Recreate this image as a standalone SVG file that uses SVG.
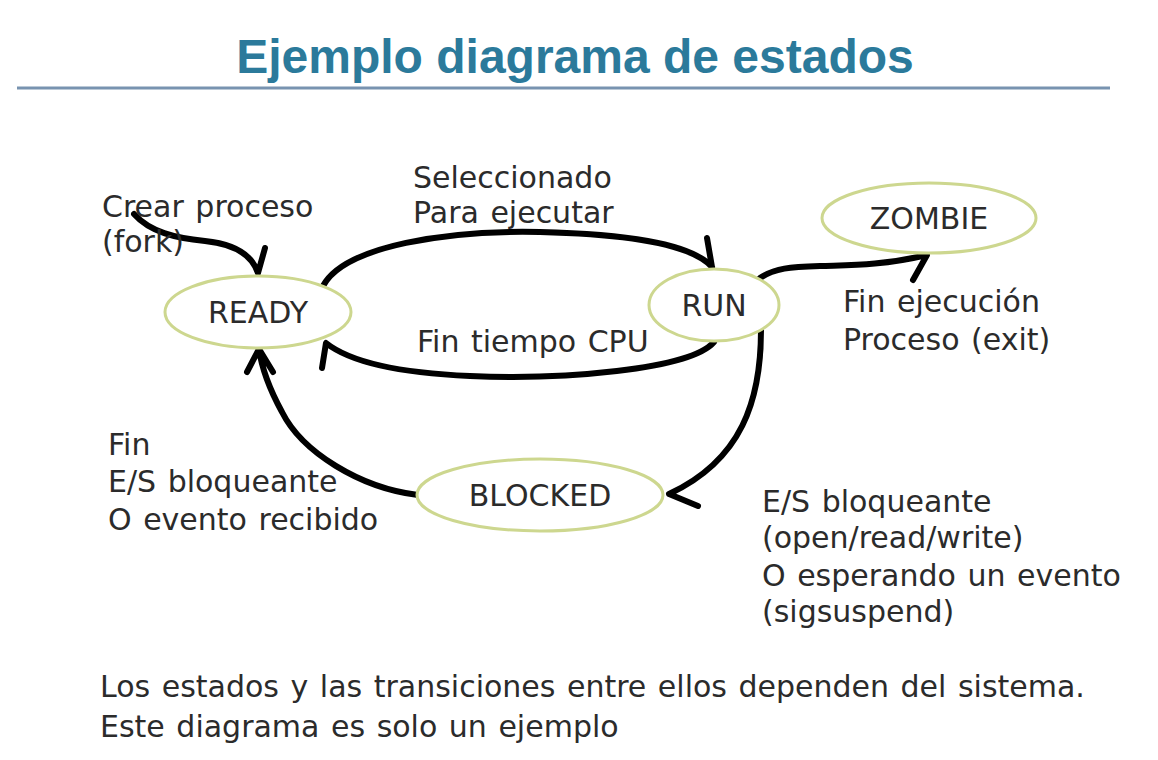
<svg xmlns="http://www.w3.org/2000/svg" width="1158" height="760" viewBox="0 0 1158 760">
<style>
.t{font-family:"DejaVu Sans",Verdana,sans-serif;font-size:30px;word-spacing:2px;fill:#2b2b2b}
.n{fill:#fff;stroke:#cdd78f;stroke-width:3}
.c{fill:none;stroke:#000;stroke-width:6;stroke-linecap:round;stroke-linejoin:round}
</style>
<rect width="1158" height="760" fill="#fff"/>
<text x="575" y="73" text-anchor="middle" font-family="'Liberation Sans',Arial,sans-serif" font-weight="bold" font-size="48" fill="#2b7a9b">Ejemplo diagrama de estados</text>
<line x1="17" y1="88" x2="1110" y2="88" stroke="#7893b0" stroke-width="3"/>
<g id="connectors">
<path class="c" d="M134,214 C150,232 175,238 205,241 C235,244 252,255 258,273 M265,248 L258,273"/>
<path class="c" d="M323,286 C345,245 450,230 540,232 C620,234 690,242 712,267 M707,238 L712,267"/>
<path class="c" d="M714,342 C690,370 560,380 470,376 C400,373 350,362 326,343 L322,368"/>
<path class="c" d="M761,330 C761,400 742,460 669,494 L698,506"/>
<path class="c" d="M418,495 C360,488 302,452 282,412 C270,390 262,370 259,349 M247,372 L259,349 L273,372"/>
<path class="c" d="M760,278 C775,268 790,267 820,266 C850,265 880,266 927,255 L913,280"/>
</g>
<g id="ready"><ellipse class="n" cx="258" cy="312" rx="93" ry="36"/><text class="t" x="258" y="323" text-anchor="middle">READY</text></g>
<g id="run"><ellipse class="n" cx="714" cy="305" rx="65" ry="36"/><text class="t" x="714" y="316" text-anchor="middle">RUN</text></g>
<g id="zombie"><ellipse class="n" cx="929" cy="218" rx="107" ry="35"/><text class="t" x="929" y="229" text-anchor="middle">ZOMBIE</text></g>
<g id="blocked"><ellipse class="n" cx="540" cy="495" rx="123" ry="36"/><text class="t" x="540" y="506" text-anchor="middle">BLOCKED</text></g>
<g id="labels">
<text class="t" x="102" y="217">Crear proceso</text>
<text class="t" x="102" y="252">(fork)</text>
<text class="t" x="413" y="188">Seleccionado</text>
<text class="t" x="413" y="223">Para ejecutar</text>
<text class="t" x="417" y="352">Fin tiempo CPU</text>
<text class="t" x="843" y="312">Fin ejecución</text>
<text class="t" x="843" y="350">Proceso (exit)</text>
<text class="t" x="108" y="455">Fin</text>
<text class="t" x="108" y="492">E/S bloqueante</text>
<text class="t" x="108" y="530">O evento recibido</text>
<text class="t" x="762" y="512">E/S bloqueante</text>
<text class="t" x="762" y="548">(open/read/write)</text>
<text class="t" x="762" y="586">O esperando un evento</text>
<text class="t" x="762" y="622">(sigsuspend)</text>
<text class="t" x="100" y="697">Los estados y las transiciones entre ellos dependen del sistema.</text>
<text class="t" x="100" y="737">Este diagrama es solo un ejemplo</text>
</g>
</svg>
